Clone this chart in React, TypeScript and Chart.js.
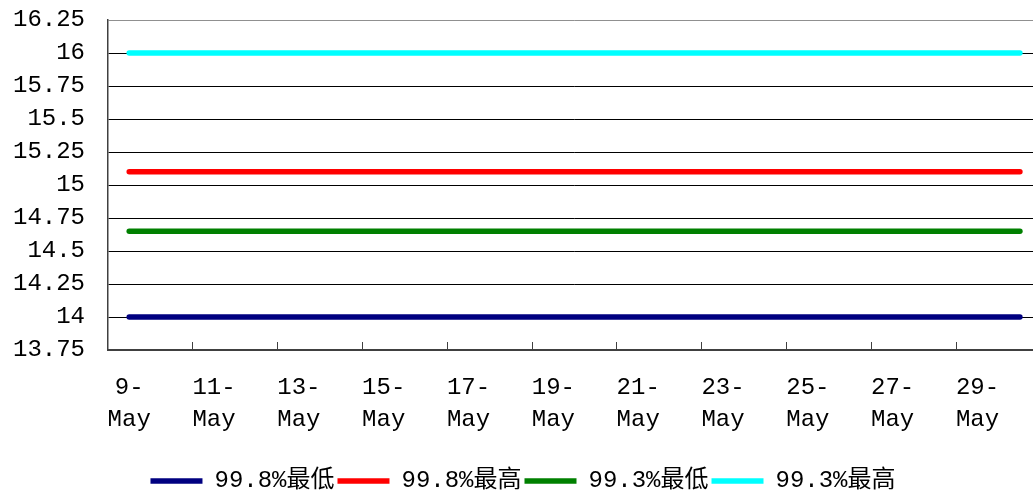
import { useEffect, useRef } from "react";
import { Chart, registerables } from "chart.js";

Chart.register(...registerables);

const categories = [
  "9-May", "10-May", "11-May", "12-May", "13-May", "14-May", "15-May", "16-May",
  "17-May", "18-May", "19-May", "20-May", "21-May", "22-May", "23-May", "24-May",
  "25-May", "26-May", "27-May", "28-May", "29-May", "30-May",
];

const low998 = [14, 14, 14, 14, 14, 14, 14, 14, 14, 14, 14, 14, 14, 14, 14, 14, 14, 14, 14, 14, 14, 14];
const high998 = [15.1, 15.1, 15.1, 15.1, 15.1, 15.1, 15.1, 15.1, 15.1, 15.1, 15.1, 15.1, 15.1, 15.1, 15.1, 15.1, 15.1, 15.1, 15.1, 15.1, 15.1, 15.1];
const low993 = [14.65, 14.65, 14.65, 14.65, 14.65, 14.65, 14.65, 14.65, 14.65, 14.65, 14.65, 14.65, 14.65, 14.65, 14.65, 14.65, 14.65, 14.65, 14.65, 14.65, 14.65, 14.65];
const high993 = [16, 16, 16, 16, 16, 16, 16, 16, 16, 16, 16, 16, 16, 16, 16, 16, 16, 16, 16, 16, 16, 16];

const seriesNames = ["99.8%最低", "99.8%最高", "99.3%最低", "99.3%最高"];
const seriesColors = ["#000080", "#FF0000", "#008000", "#00FFFF"];
const seriesValues = [low998, high998, low993, high993];

const yMin = 13.75;
const yMax = 16.25;
const yStep = 0.25;

const FONT = "'Liberation Mono', 'Noto Sans CJK SC', monospace";

export default function App() {
  const ref = useRef<HTMLCanvasElement | null>(null);

  useEffect(() => {
    if (!ref.current) return;
    const chart = new Chart(ref.current, {
      type: "line",
      data: {
        labels: categories,
        datasets: seriesValues.map((vals, i) => ({
          label: seriesNames[i],
          data: vals,
          borderColor: seriesColors[i],
          backgroundColor: seriesColors[i],
          borderWidth: 5.5,
          borderCapStyle: "round" as const,
          pointRadius: 0,
          pointStyle: "line" as const,
          tension: 0,
        })),
      },
      options: {
        responsive: false,
        animation: false,
        color: "#000",
        layout: { padding: { top: 20, right: 4, left: 0, bottom: -11 } },
        plugins: {
          tooltip: { enabled: false },
          legend: {
            position: "bottom",
            labels: {
              usePointStyle: true,
              pointStyle: "line",
              pointStyleWidth: 52,
              boxHeight: 5,
              padding: 3,
              color: "#000",
              font: { family: FONT, size: 24 },
            },
          },
        },
        scales: {
          x: {
            type: "category",
            offset: true,
            border: { color: "#404040", width: 2 },
            grid: {
              offset: true,
              drawOnChartArea: false,
              drawTicks: true,
              tickLength: -8,
              lineWidth: 1,
              color: (ctx: any) =>
                ctx.index > 0 && ctx.index % 2 === 0 ? "#404040" : "rgba(0,0,0,0)",
            },
            ticks: {
              autoSkip: false,
              maxRotation: 0,
              minRotation: 0,
              padding: 30,
              color: "#000",
              font: { family: FONT, size: 24, lineHeight: 1.3333 },
              callback: function (this: any, _v: any, index: number) {
                if (index % 2 !== 0) return "";
                const lab = categories[index];
                const p = lab.indexOf("-");
                return [lab.slice(0, p + 1), lab.slice(p + 1)];
              },
            },
          },
          y: {
            min: yMin,
            max: yMax,
            border: { color: "#404040", width: 1.5 },
            afterFit: (scale: any) => {
              scale.width = 108;
            },
            grid: {
              drawTicks: true,
              tickLength: 23,
              tickColor: "rgba(0,0,0,0)",
              lineWidth: 1,
              color: (ctx: any) =>
                ctx.tick && ctx.tick.value === yMax ? "#909090" : "#000000",
            },
            ticks: {
              autoSkip: false,
              stepSize: yStep,
              padding: 0,
              color: "#000",
              font: { family: FONT, size: 24 },
              callback: (v: any) => String(Number(v)),
            },
          },
        },
      },
    });
    return () => chart.destroy();
  }, []);

  return (
    <div
      style={{
        position: "fixed",
        left: 0,
        top: 0,
        width: 1033,
        height: 492,
        overflow: "hidden",
        background: "#fff",
      }}
    >
      <canvas ref={ref} width={1050} height={492} style={{ width: 1050, height: 492 }} />
    </div>
  );
}
